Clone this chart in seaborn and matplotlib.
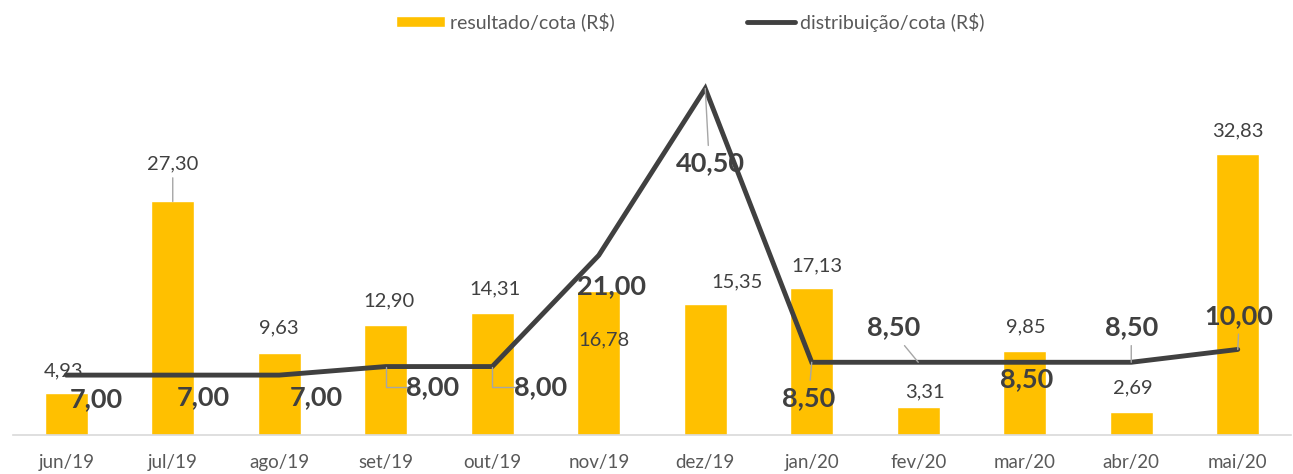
import matplotlib
matplotlib.use("Agg")
import matplotlib.pyplot as plt
import seaborn as sns
import pandas as pd
import numpy as np

categories = ["jun/19", "jul/19", "ago/19", "set/19", "out/19", "nov/19",
              "dez/19", "jan/20", "fev/20", "mar/20", "abr/20", "mai/20"]
resultado = [4.93, 27.30, 9.63, 12.90, 14.31, 16.78, 15.35, 17.13, 3.31, 9.85, 2.69, 32.83]
distribuicao = [7.00, 7.00, 7.00, 8.00, 8.00, 21.00, 40.50, 8.50, 8.50, 8.50, 8.50, 10.00]

# label offsets in points (dx, dy) - layout only
bar_off = [(-2, 16), (0, 27), (0, 18), (2, 17), (2, 17), (4, -35),
           (23, 16), (4, 16), (5, 11), (1, 17), (1, 17), (0, 17)]
bar_leader = [False, True, False, False, False, False, False, False, False, False, False, False]
line_off = [(22, -17), (22, -16), (27, -16), (34, -15), (35, -15), (9, -22),
            (4, -54), (-2, -26), (-18, 25), (1, -12), (0, 25), (1, 24)]
line_leader = [None, None, None, "elbow", "elbow", None, "straight", "straight",
               "straight", None, "straight", "straight"]

BAR = "#FFC000"
LINE = "#404040"
TXT = "#404040"
TICK = "#595959"
LEAD = "#A6A6A6"

sns.set_theme(style="white")
plt.rcParams["font.family"] = ["Lato", "DejaVu Sans"]

fig = plt.figure(figsize=(12.93, 4.74), dpi=100)
ax = fig.add_axes([13 / 1293, 39 / 474, 1278 / 1293, 385 / 474])

df = pd.DataFrame({"mes": categories, "resultado": resultado, "distribuicao": distribuicao})
df["pos"] = np.arange(len(categories))

sns.barplot(data=df, x="mes", y="resultado", color=BAR, width=0.4, ax=ax,
            saturation=1, label="resultado/cota (R$)")
sns.lineplot(data=df, x="pos", y="distribuicao", color=LINE, linewidth=3.5, ax=ax,
             label="distribuição/cota (R$)", sort=False)
for l in ax.lines:
    l.set_solid_joinstyle("miter")

ax.set_xlim(-0.5, len(categories) - 0.5)
ax.set_ylim(0, 45)
ax.set_xlabel("")
ax.set_ylabel("")
ax.set_yticks([])
for s in ["left", "top", "right"]:
    ax.spines[s].set_visible(False)
ax.spines["bottom"].set_color("#D9D9D9")
ax.spines["bottom"].set_linewidth(1.2)
ax.set_xticks(df["pos"])
ax.set_xticklabels(categories, fontsize=13.5, color=TICK)
ax.tick_params(axis="x", which="major", length=0, pad=14)
ax.set_xticks(np.arange(-0.5, len(categories), 1.0), minor=True)
ax.tick_params(axis="x", which="minor", length=6, color="#D9D9D9", width=1.2, direction="out")

# bar labels
for i, v in enumerate(resultado):
    dx, dy = bar_off[i]
    txt = f"{v:.2f}".replace(".", ",")
    ax.annotate(txt, (i, v), xytext=(dx, dy), textcoords="offset points",
                ha="center", va="center", fontsize=14.5, color=TXT, zorder=5)
    if bar_leader[i]:
        ax.annotate("", (i, v), xytext=(0, dy - 10), textcoords="offset points",
                    arrowprops=dict(arrowstyle="-", color=LEAD, lw=1, shrinkA=0, shrinkB=0))

# line labels
for i, v in enumerate(distribuicao):
    dx, dy = line_off[i]
    txt = f"{v:.2f}".replace(".", ",")
    ax.annotate(txt, (i, v), xytext=(dx, dy), textcoords="offset points",
                ha="center", va="center", fontsize=19.5, fontweight="bold", color=TXT, zorder=6)
    kind = line_leader[i]
    if kind == "straight":
        sy = 1 if dy > 0 else -1
        ax.annotate("", (i, v), xytext=(dx * 0.55, dy - sy * 13), textcoords="offset points",
                    arrowprops=dict(arrowstyle="-", color=LEAD, lw=1, shrinkA=0, shrinkB=0), zorder=4)
    elif kind == "elbow":
        ax.annotate("", (i, v), xytext=(dx - 14, dy + 0), textcoords="offset points",
                    arrowprops=dict(arrowstyle="-", color=LEAD, lw=1, shrinkA=0, shrinkB=0,
                                    connectionstyle="angle,angleA=0,angleB=90,rad=0"), zorder=4)

handles, labels = ax.get_legend_handles_labels()
order = [labels.index("resultado/cota (R$)"), labels.index("distribuição/cota (R$)")]
ax.legend([handles[k] for k in order], [labels[k] for k in order],
          loc="center", bbox_to_anchor=(0.534, 452 / 474), bbox_transform=fig.transFigure,
          ncol=2, frameon=False, fontsize=14, columnspacing=6.8, handlelength=2.5,
          handleheight=0.5, handletextpad=0.26, labelcolor=TICK)

fig.savefig("out.png", dpi=100)
